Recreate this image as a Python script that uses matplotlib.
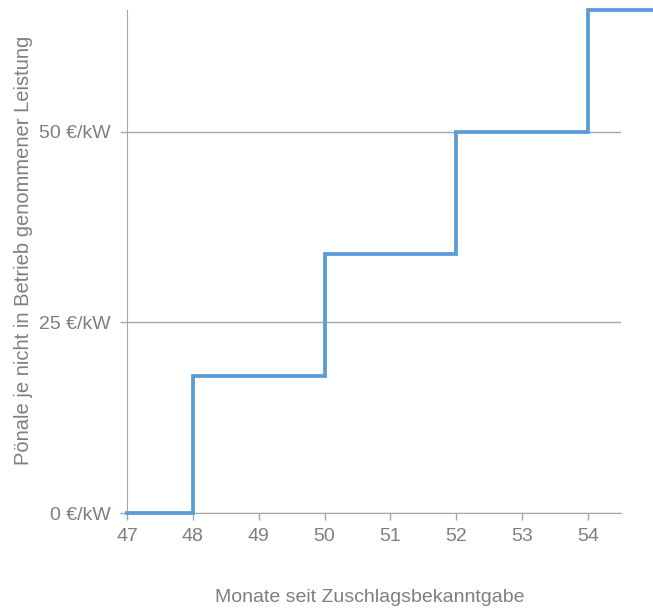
import matplotlib
matplotlib.use("Agg")
import matplotlib.pyplot as plt

months = [47, 48, 50, 52, 54, 55]
penalty = [0, 18, 34, 50, 66, 66]
xticks = [47, 48, 49, 50, 51, 52, 53, 54]
yticks = [0, 25, 50]
ytick_labels = ["0 €/kW", "25 €/kW", "50 €/kW"]

plt.rcParams['font.family'] = ['Liberation Sans', 'DejaVu Sans']
gray = '#7f7f7f'
axgray = '#a6a6a6'

fig = plt.figure(figsize=(6.53, 6.10), dpi=100)
ax = fig.add_axes([0.1945, 0.159, 0.951 - 0.1945, 0.9836 - 0.159])

ax.step(months, penalty, where='post', color='#5b9bd5', linewidth=2.7,
        clip_on=False, zorder=3, solid_joinstyle='miter')

ax.set_xlim(47, 54.5)
ax.set_ylim(0, 66)
ax.set_xticks(xticks)
ax.set_yticks(yticks)
ax.set_yticklabels(ytick_labels)

ax.grid(axis='y', color=axgray, linewidth=1)
ax.set_axisbelow(True)
for s in ['top', 'right']:
    ax.spines[s].set_visible(False)
ax.spines['left'].set_color(axgray)
ax.spines['bottom'].set_color(axgray)
ax.tick_params(axis='x', color=axgray, labelcolor=gray, labelsize=14,
               length=5, width=1, direction='out', pad=6)
ax.tick_params(axis='y', color=axgray, labelcolor=gray, labelsize=14,
               length=5, width=1, direction='out', pad=7)

fig.text(0.566, 0.02, "Monate seit Zuschlagsbekanntgabe", color=gray,
         fontsize=14, ha='center', va='center')
fig.text(0.036, 0.589, "Pönale je nicht in Betrieb genommener Leistung",
         color=gray, fontsize=14.5, ha='center', va='center', rotation=90)

fig.savefig("out.png", dpi=100)
